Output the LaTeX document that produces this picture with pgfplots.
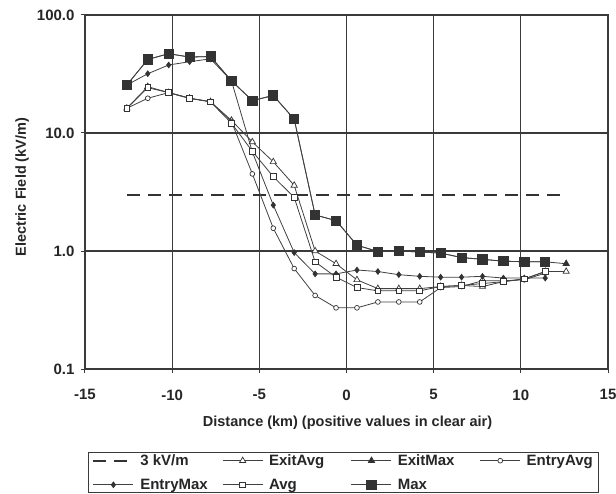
\documentclass[border=0pt]{standalone}
\usepackage{fontspec}
\setmainfont{Liberation Sans}
\usepackage{pgfplots}
\pgfplotsset{compat=1.18}
\definecolor{ln}{HTML}{404040}
\definecolor{mk}{HTML}{333333}
\definecolor{gr}{HTML}{3A3A3A}
\begin{document}
\begin{tikzpicture}
\useasboundingbox (0pt,0pt) rectangle (616pt,-494pt);
\begin{axis}[
  at={(85pt,-369pt)}, anchor=south west,
  scale only axis, width=523pt, height=354pt,
  ymode=log, xmin=-15, xmax=15, ymin=0.1, ymax=100,
  xtick={-15,-10,-5,0,5,10,15},
  xticklabels={-15,-10,-5,0,5,10,15},
  ytick={0.1,1,10,100},
  yticklabels={0.1,1.0,10.0,100.0},
  yminorticks=false,
  grid=major,
  major grid style={gr, line width=1.3pt},
  axis line style={gr, line width=1.3pt},
  tick style={gr, line width=1pt},
  tick align=outside, major tick length=4pt,
  xtick pos=left, ytick pos=left,
  ticklabel style={font=\bfseries\fontsize{15}{17}\selectfont, text=black!85},
  xticklabel style={yshift=-13pt},
  yticklabel style={xshift=-3pt},
  xlabel={Distance (km) (positive values in clear air)},
  ylabel={Electric Field (kV/m)},
  every axis x label/.style={at={(axis description cs:0.502,-0.152)}, anchor=center,
     font=\bfseries\fontsize{14.5}{17}\selectfont, text=black!85},
  every axis y label/.style={at={(axis description cs:-0.12,0.514)}, anchor=center, rotate=90,
     font=\bfseries\fontsize{14.5}{17}\selectfont, text=black!85},
  legend columns=4,
  legend cell align=left,
  legend style={at={(0.0057,-0.2345)}, anchor=north west, draw=gr, line width=1pt,
     font=\bfseries\fontsize{15}{17}\selectfont, text=black!85,
     /tikz/every even column/.append style={column sep=0pt},
     row sep=8pt, inner xsep=4pt, inner ysep=0pt},
  legend image code/.code={\draw[mark repeat=2,mark phase=2] plot coordinates {(0pt,0pt) (20pt,0pt) (40pt,0pt)};},
  every axis plot/.append style={ln, line width=0.8pt},
]
\addplot[mk, line width=1.8pt, dash pattern=on 13pt off 8pt, no marks] coordinates {(-12.6,3) (12.6,3)};
\addlegendentry{\makebox[84pt][l]{\hspace{4pt}3 kV/m}}
\addplot[mark=triangle*, mark size=3.6pt, mark options={fill=white, draw=mk, line width=0.7pt, solid}] coordinates {
(-12.6,16.2) (-11.4,24.7) (-10.2,22) (-9.0,19.7) (-7.8,18.4) (-6.6,12.8) (-5.4,8.4) (-4.2,5.7) (-3.0,3.6) (-1.8,1.0) (-0.6,0.78) (0.6,0.57) (1.8,0.48) (3.0,0.48) (4.2,0.48) (5.4,0.50) (6.6,0.51) (7.8,0.50) (9.0,0.55) (10.2,0.58) (11.4,0.67) (12.6,0.67)};
\addlegendentry{\makebox[84pt][l]{\hspace{4pt}ExitAvg}}
\addplot[mark=triangle*, mark size=3.6pt, mark options={fill=mk, draw=mk, solid}] coordinates {
(-12.6,25.5) (-11.4,42) (-10.2,47) (-9.0,44) (-7.8,44.5) (-6.6,27.7) (-5.4,18.8) (-4.2,20.8) (-3.0,13.1) (-1.8,2.02) (-0.6,1.81) (0.6,1.12) (1.8,0.99) (3.0,1.0) (4.2,0.98) (5.4,0.96) (6.6,0.88) (7.8,0.85) (9.0,0.82) (10.2,0.81) (11.4,0.81) (12.6,0.78)};
\addlegendentry{\makebox[84pt][l]{\hspace{4pt}ExitMax}}
\addplot[mark=*, mark size=2.4pt, mark options={fill=white, draw=mk, line width=0.7pt, solid}] coordinates {
(-12.6,16.2) (-11.4,19.7) (-10.2,22) (-9.0,19.7) (-7.8,18.4) (-6.6,12.5) (-5.4,4.5) (-4.2,1.56) (-3.0,0.71) (-1.8,0.42) (-0.6,0.33) (0.6,0.33) (1.8,0.37) (3.0,0.37) (4.2,0.37) (5.4,0.49) (6.6,0.50) (7.8,0.56) (9.0,0.56) (10.2,0.57) (11.4,0.65)};
\addlegendentry{\hspace{4pt}EntryAvg\hspace{6pt}}
\addplot[mark=diamond*, mark size=2.8pt, mark options={fill=mk, draw=mk, solid}] coordinates {
(-12.6,25.5) (-11.4,31.8) (-10.2,37.7) (-9.0,40.2) (-7.8,42.5) (-6.6,27.7) (-5.4,6.9) (-4.2,2.45) (-3.0,0.97) (-1.8,0.64) (-0.6,0.64) (0.6,0.69) (1.8,0.67) (3.0,0.63) (4.2,0.61) (5.4,0.60) (6.6,0.60) (7.8,0.61) (9.0,0.59) (10.2,0.59) (11.4,0.59)};
\addlegendentry{\makebox[84pt][l]{\hspace{4pt}EntryMax}}
\addplot[mark=square*, mark size=2.9pt, mark options={fill=white, draw=mk, line width=0.7pt, solid}] coordinates {
(-12.6,16.2) (-11.4,24.2) (-10.2,22) (-9.0,19.7) (-7.8,18.4) (-6.6,12.1) (-5.4,7.0) (-4.2,4.26) (-3.0,2.85) (-1.8,0.81) (-0.6,0.60) (0.6,0.49) (1.8,0.46) (3.0,0.46) (4.2,0.46) (5.4,0.50) (6.6,0.51) (7.8,0.53) (9.0,0.55) (10.2,0.58) (11.4,0.67)};
\addlegendentry{\makebox[84pt][l]{\hspace{4pt}Avg}}
\addplot[mark=square*, mark size=4.6pt, mark options={fill=mk, draw=mk, solid}] coordinates {
(-12.6,25.5) (-11.4,42) (-10.2,47) (-9.0,44) (-7.8,44.5) (-6.6,27.7) (-5.4,18.8) (-4.2,20.8) (-3.0,13.1) (-1.8,2.02) (-0.6,1.81) (0.6,1.12) (1.8,0.99) (3.0,1.0) (4.2,0.98) (5.4,0.96) (6.6,0.88) (7.8,0.85) (9.0,0.82) (10.2,0.81) (11.4,0.81)};
\addlegendentry{\makebox[84pt][l]{\hspace{4pt}Max}}
\end{axis}
\end{tikzpicture}
\end{document}
